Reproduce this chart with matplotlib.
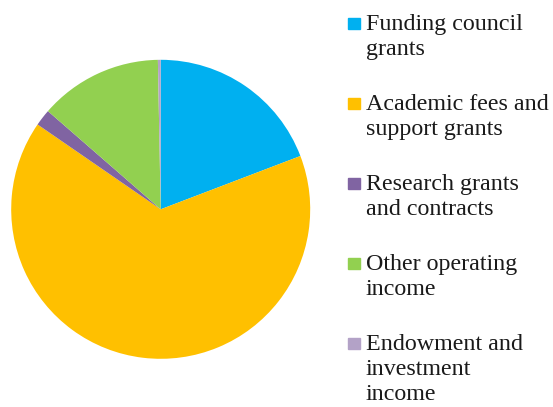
import matplotlib.pyplot as plt
from matplotlib.patches import Rectangle

# income sources (share of total, %)
labels = ["Funding council\ngrants",
          "Academic fees and\nsupport grants",
          "Research grants\nand contracts",
          "Other operating\nincome",
          "Endowment and\ninvestment\nincome"]
values = [19.2, 65.4, 1.8, 13.3, 0.3]
colors = ["#00B0F0", "#FFC000", "#8064A2", "#92D050", "#B3A2C7"]

W, H = 553, 407
fig = plt.figure(figsize=(W / 100, H / 100), dpi=100)

# pie
ax = fig.add_axes([10.7 / W, 47.7 / H, 300 / W, 300 / H])
ax.pie(values, colors=colors, startangle=90, counterclock=False,
       radius=1.0, wedgeprops=dict(linewidth=0))
ax.set_xlim(-1.0033, 1.0033)
ax.set_ylim(-1.0033, 1.0033)
ax.set_aspect("equal")
ax.axis("off")

# legend drawn by hand so the marker sits on the first line
font = dict(family=["Liberation Serif", "DejaVu Serif"], size=17.3, color="#1a1a1a")
for i, (lab, col) in enumerate(zip(labels, colors)):
    base = 30 + 80 * i
    fig.patches.append(Rectangle((348 / W, 1 - (base - 1) / H), 12 / W, 11 / H,
                                 transform=fig.transFigure, color=col))
    for j, line in enumerate(lab.split("\n")):
        fig.text(366 / W, 1 - (base + 25 * j) / H, line, va="baseline",
                 ha="left", **font)

fig.savefig("out.png", dpi=100)
